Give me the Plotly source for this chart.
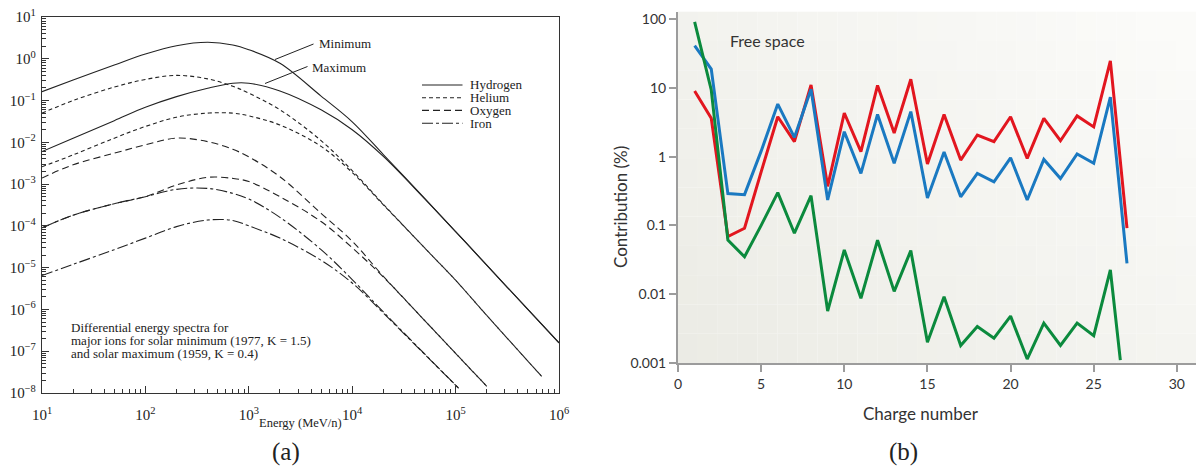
import plotly.graph_objects as go

W, H = 1198, 470

# ---------------- Panel (a) data: differential energy spectra ----------------
E_H = [10, 20, 50, 100, 200, 400, 700, 1000, 2000, 5000, 1e4, 2e4, 5e4, 1e5, 2e5, 5e5, 1e6]
H_min = [0.163, 0.31, 0.71, 1.3, 2.06, 2.48, 2.14, 1.65, 0.78, 0.128, 0.031, 0.0051, 4.6e-4, 7.3e-5, 1.15e-5, 1.0e-6, 1.58e-7]
H_max = [0.006, 0.0126, 0.033, 0.069, 0.124, 0.197, 0.26, 0.26, 0.17, 0.06, 0.02, 0.0046, 4.5e-4, 7.3e-5, 1.15e-5, 1.0e-6, 1.58e-7]

E_He = [10, 20, 50, 100, 200, 400, 700, 1000, 2000, 5000, 1e4, 2e4, 5e4, 1e5, 2e5, 6.8e5]
He_min = [0.05, 0.1, 0.21, 0.32, 0.40, 0.33, 0.22, 0.15, 0.06, 0.011, 0.0021, 3.3e-4, 3.0e-5, 5.0e-6, 7.2e-7, 2.5e-8]
He_max = [0.0026, 0.005, 0.0126, 0.024, 0.04, 0.05, 0.05, 0.043, 0.026, 0.008, 0.0019, 3.2e-4, 3.0e-5, 5.0e-6, 7.2e-7, 2.5e-8]

E_O = [10, 20, 50, 100, 200, 400, 700, 1000, 2000, 5000, 1e4, 2e4, 5e4, 1e5, 2e5]
O_min = [0.0014, 0.0029, 0.0055, 0.0087, 0.0126, 0.0104, 0.0068, 0.0045, 0.0015, 2.0e-4, 4.3e-5, 6.2e-6, 5.5e-7, 8.9e-8, 1.45e-8]
O_max = [9e-5, 1.8e-4, 3.4e-4, 5e-4, 9.5e-4, 1.45e-3, 1.37e-3, 1.15e-3, 5.0e-4, 1.27e-4, 3.0e-5, 6.0e-6, 5.5e-7, 8.9e-8, 1.45e-8]

E_Fe = [10, 20, 50, 100, 200, 400, 700, 1000, 2000, 5000, 1e4, 2e4, 5e4, 1.07e5]
Fe_min = [9e-5, 1.8e-4, 3.4e-4, 5e-4, 7.5e-4, 7.9e-4, 6e-4, 4.4e-4, 1.6e-4, 2.7e-5, 5.2e-6, 8.7e-7, 8.7e-8, 1.3e-8]
Fe_max = [6.5e-6, 1.2e-5, 2.7e-5, 5.1e-5, 9.6e-5, 1.38e-4, 1.35e-4, 1.0e-4, 5.1e-5, 1.5e-5, 4.3e-6, 8.2e-7, 8.5e-8, 1.3e-8]

ion_names = ["Hydrogen", "Helium", "Oxygen", "Iron"]
left_exponents = list(range(1, 7))
left_y_exponents = list(range(-8, 2))

# ---------------- Panel (b) data: contribution by charge number ----------------
Z = list(range(1, 28))
red_vals = [9, 3.6, 0.069, 0.091, 0.6, 3.8, 1.65, 11, 0.37, 4.3, 1.18, 10.8, 2.2, 13.3, 0.78, 4.1, 0.89,
            2.06, 1.65, 3.8, 0.94, 3.6, 1.7, 3.9, 2.7, 24.6, 0.091]
blue_vals = [41, 18.7, 0.29, 0.28, 1.2, 5.8, 1.9, 9.5, 0.234, 2.3, 0.57, 4.1, 0.8, 4.5, 0.25, 1.17, 0.26,
             0.57, 0.43, 0.96, 0.234, 0.91, 0.48, 1.09, 0.8, 7.3, 0.028]
Z_green = list(range(1, 27)) + [26.6]
green_vals = [91, 9.3, 0.061, 0.035, 0.1, 0.30, 0.077, 0.27, 0.0057, 0.044, 0.0087, 0.061, 0.011, 0.043,
              0.002, 0.0092, 0.0018, 0.0034, 0.0023, 0.0048, 0.00114, 0.0038, 0.0018, 0.0038, 0.0025,
              0.0225, 0.0011]
right_x_ticks = [0, 5, 10, 15, 20, 25, 30]
right_y_ticks = [0.001, 0.01, 0.1, 1, 10, 100]
right_y_labels = ["0.001", "0.01", "0.1", "1", "10", "100"]


def px(x):
    return x / W


def py(y):
    return 1 - y / H


SERIF = "Liberation Serif"
SANS = "Lato"
INK = "#222222"

dash_H = "solid"
dash_He = "4px,3px"
dash_O = "7px,4px"
dash_Fe = "11px,3px,3px,3px"

fig = go.Figure()

left_series = [
    (E_H, H_min, dash_H), (E_H, H_max, dash_H),
    (E_He, He_min, dash_He), (E_He, He_max, dash_He),
    (E_O, O_min, dash_O), (E_O, O_max, dash_O),
    (E_Fe, Fe_min, dash_Fe), (E_Fe, Fe_max, dash_Fe),
]
for ex, vals, dsh in left_series:
    fig.add_trace(go.Scatter(x=ex, y=vals, mode="lines", xaxis="x", yaxis="y",
                             line=dict(color=INK, width=1.1, dash=dsh, shape="spline", smoothing=1.0),
                             showlegend=False, hoverinfo="skip"))

for vals, col, zz in [(red_vals, "#e2161f", Z), (blue_vals, "#1a79c1", Z), (green_vals, "#0b8a3d", Z_green)]:
    fig.add_trace(go.Scatter(x=zz, y=vals, mode="lines", xaxis="x2", yaxis="y2",
                             line=dict(color=col, width=3), showlegend=False, hoverinfo="skip"))


def sup_label(n):
    s = str(n).replace("-", "\u2212")
    return "10<sup>" + s + "</sup>"


shapes = []
# background gradient for panel (b)
ncol, nrow = 26, 12
c_dark = (234, 234, 227)
c_light = (251, 251, 249)
for i in range(ncol):
    for j in range(nrow):
        u = (i + 0.5) / ncol
        v = (j + 0.5) / nrow
        t = min(1.0, 0.55 * u + 0.45 * v + 0.05)
        c = tuple(int(round(c_dark[k] + (c_light[k] - c_dark[k]) * t)) for k in range(3))
        shapes.append(dict(type="rect", xref="x2 domain", yref="y2 domain",
                           x0=i / ncol, x1=(i + 1) / ncol, y0=j / nrow, y1=(j + 1) / nrow,
                           fillcolor="rgb(%d,%d,%d)" % c, line=dict(width=0), layer="below"))

# leader lines for Minimum / Maximum
shapes.append(dict(type="line", xref="paper", yref="paper", x0=px(275), y0=py(59.5), x1=px(313.5), y1=py(44),
                   line=dict(color=INK, width=1)))
shapes.append(dict(type="line", xref="paper", yref="paper", x0=px(265), y0=py(83.5), x1=px(307.5), y1=py(66.5),
                   line=dict(color=INK, width=1)))

# manual legend for panel (a)
leg_y = [85, 97.7, 110.4, 123.2]
leg_dash = [dash_H, dash_He, dash_O, dash_Fe]
annotations = []
for name, yy, dsh in zip(ion_names, leg_y, leg_dash):
    shapes.append(dict(type="line", xref="paper", yref="paper", x0=px(422), x1=px(462.5), y0=py(yy), y1=py(yy),
                       line=dict(color=INK, width=1.1, dash=dsh)))
    annotations.append(dict(text=name, xref="paper", yref="paper", x=px(467.5), y=py(yy), xanchor="left",
                            yanchor="middle", showarrow=False, font=dict(family=SERIF, size=13, color=INK)))

annotations += [
    dict(text="Minimum", xref="paper", yref="paper", x=px(317), y=py(43.5), xanchor="left", yanchor="middle",
         showarrow=False, font=dict(family=SERIF, size=13, color=INK)),
    dict(text="Maximum", xref="paper", yref="paper", x=px(310), y=py(67), xanchor="left", yanchor="middle",
         showarrow=False, font=dict(family=SERIF, size=13, color=INK)),
    dict(text="Differential energy spectra for", xref="paper", yref="paper", x=px(68.5), y=py(327),
         xanchor="left", yanchor="middle", showarrow=False, font=dict(family=SERIF, size=13, color=INK)),
    dict(text="major ions for solar minimum (1977, K = 1.5)", xref="paper", yref="paper", x=px(68.5), y=py(340),
         xanchor="left", yanchor="middle", showarrow=False, font=dict(family=SERIF, size=13, color=INK)),
    dict(text="and solar maximum (1959, K = 0.4)", xref="paper", yref="paper", x=px(68.5), y=py(353.3),
         xanchor="left", yanchor="middle", showarrow=False, font=dict(family=SERIF, size=13, color=INK)),
    dict(text="Energy (MeV/n)", xref="paper", yref="paper", x=px(300), y=py(422.5), xanchor="center",
         yanchor="middle", showarrow=False, font=dict(family=SERIF, size=12.5, color=INK)),
    dict(text="(a)", xref="paper", yref="paper", x=px(286), y=py(452), xanchor="center", yanchor="middle",
         showarrow=False, font=dict(family=SERIF, size=25, color=INK)),
    dict(text="(b)", xref="paper", yref="paper", x=px(903), y=py(452), xanchor="center", yanchor="middle",
         showarrow=False, font=dict(family=SERIF, size=25, color=INK)),
    dict(text="Free space", xref="paper", yref="paper", x=px(728), y=py(41), xanchor="left", yanchor="middle",
         showarrow=False, font=dict(family=SANS, size=16, color="#333333")),
    dict(text="Charge number", xref="paper", yref="paper", x=px(921), y=py(413), xanchor="center",
         yanchor="middle", showarrow=False, font=dict(family=SANS, size=17, color="#333333")),
    dict(text="Contribution (%)", xref="paper", yref="paper", x=px(620), y=py(207), xanchor="center",
         yanchor="middle", textangle=-90, showarrow=False, font=dict(family=SANS, size=17, color="#333333")),
]

fig.update_layout(
    width=W, height=H,
    margin=dict(l=0, r=0, t=0, b=0, autoexpand=False),
    paper_bgcolor="white", plot_bgcolor="white",
    showlegend=False,
    shapes=shapes,
    annotations=annotations,
    xaxis=dict(domain=[px(42), px(559)], type="log", range=[1, 6], anchor="y", automargin=False,
               showline=True, linecolor="#333333", linewidth=1.3, mirror=True,
               showgrid=False, zeroline=False,
               ticks="inside", ticklen=7, tickwidth=1, tickcolor="#333333",
               tickmode="array", tickvals=[10 ** n for n in left_exponents],
               ticktext=[sup_label(n) for n in left_exponents],
               ticklabelstandoff=8,
               tickfont=dict(family=SERIF, size=15, color=INK),
               minor=dict(ticks="inside", ticklen=4, tickwidth=1, tickcolor="#333333", dtick="D1", showgrid=False)),
    yaxis=dict(domain=[py(393), py(17)], type="log", range=[-8, 1], anchor="x", automargin=False,
               showline=True, linecolor="#333333", linewidth=1.3, mirror=True,
               showgrid=False, zeroline=False,
               ticks="inside", ticklen=7, tickwidth=1, tickcolor="#333333",
               tickmode="array", tickvals=[10.0 ** n for n in left_y_exponents],
               ticktext=[sup_label(n) for n in left_y_exponents],
               ticklabelstandoff=2,
               tickfont=dict(family=SERIF, size=15, color=INK),
               minor=dict(ticks="inside", ticklen=4, tickwidth=1, tickcolor="#333333", dtick="D1", showgrid=False)),
    xaxis2=dict(domain=[px(678), px(1196)], range=[0, 31.15], anchor="y2", automargin=False,
                showline=True, linecolor="#9c9c9c", linewidth=2,
                showgrid=False, zeroline=False,
                ticks="outside", ticklen=7, tickwidth=1.5, tickcolor="#9c9c9c",
                tickmode="array", tickvals=right_x_ticks,
                tickfont=dict(family=SANS, size=14, color="#333333")),
    yaxis2=dict(domain=[py(363), py(11.7)], type="log", range=[-3, 2.106], anchor="x2", automargin=False,
                showline=True, linecolor="#9c9c9c", linewidth=2,
                showgrid=False, zeroline=False,
                ticks="outside", ticklen=7, tickwidth=1.5, tickcolor="#9c9c9c",
                tickmode="array", tickvals=right_y_ticks, ticktext=right_y_labels,
                tickfont=dict(family=SANS, size=14, color="#333333")),
)

fig.write_html("out.html")
